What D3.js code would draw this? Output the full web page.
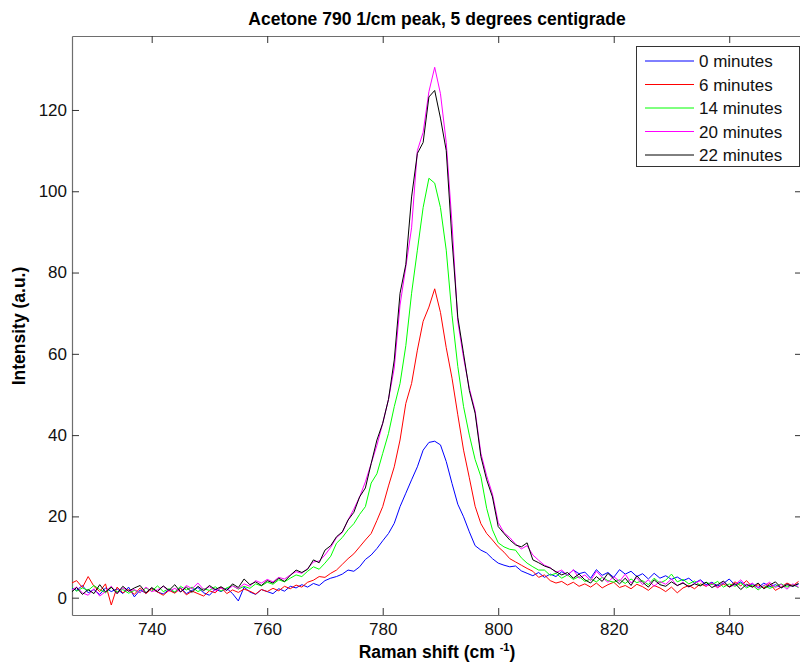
<!DOCTYPE html>
<html>
<head>
<meta charset="utf-8">
<script src="https://cdnjs.cloudflare.com/ajax/libs/d3/7.8.5/d3.min.js"></script>
<style>
  body { margin: 0; background: #fff; }
  text { font-family: "Liberation Sans", Arial, sans-serif; }
</style>
</head>
<body>
<div id="chart"></div>
<script>
// Raman shift grid, 726..852 (1/cm)
var shift = d3.range(726, 853);

var blue0 = [2.5,1.8,3.0,1.2,2.0,0.8,2.4,1.5,2.2,1.0,2.6,0.2,1.9,1.1,2.3,1.4,0.9,2.0,1.3,2.4,1.0,1.8,2.5,1.2,0.6,2.1,1.5,2.3,1.0,-0.8,2.6,1.4,0.8,2.0,
  1.5,1.0,2.2,1.6,2.8,2.4,3.2,2.6,3.5,3.0,4.2,4.8,5.2,5.8,6.8,6.5,7.6,9.4,10.5,12.1,14.0,15.8,18.3,22.4,25.7,29.0,32.2,36.3,38.2,38.5,37.6,33.5,28.1,23.0,19.9,16.2,12.8,11.7,11.0,9.6,
  8.5,8.0,7.6,7.8,6.6,6.0,5.4,6.2,5.0,5.8,5.2,6.4,5.6,6.8,5.9,6.3,4.8,6.9,5.5,6.2,5.0,6.9,5.8,6.5,5.2,5.9,4.6,6.0,4.8,5.4,4.5,5.1,4.2,4.8,3.6,4.4,3.2,3.8,2.9,3.5,
  4.6,3.1,3.9,2.8,3.4,2.5,3.6,2.7,3.2,2.4,3.5,2.8,3.3];

var red6 = [3.5,4.2,2.5,5.2,2.8,1.5,3.4,-1.8,2.6,1.2,2.0,0.8,2.4,1.0,2.2,1.4,0.6,1.8,1.1,2.3,0.7,1.6,1.0,0.4,1.7,1.2,2.6,1.0,1.9,1.3,2.1,1.6,0.9,2.0,
  1.5,2.3,1.7,2.8,2.2,3.1,2.6,3.8,4.3,5.2,5.0,6.0,6.8,8.2,9.6,10.8,12.5,14.2,15.8,19.0,22.4,27.5,32.2,38.8,47.8,52.7,60.9,68.0,71.5,76.0,70.2,61.5,54.0,45.0,36.3,29.5,22.5,18.2,15.8,14.2,
  12.5,11.2,9.6,8.8,8.0,7.2,6.5,5.0,5.6,4.2,3.6,4.0,3.1,3.8,2.8,3.4,2.6,3.6,2.4,3.2,3.8,2.5,3.0,2.2,3.3,2.7,1.8,3.0,2.4,1.5,2.6,1.2,2.4,3.0,2.2,3.4,2.8,3.6,2.5,3.3,
  2.7,3.9,2.9,4.2,2.6,3.2,2.4,3.5,1.8,2.6,3.6,2.9,4.0];

var green14 = [2.8,1.6,2.4,1.8,3.0,2.0,1.2,2.5,1.4,2.0,1.1,1.8,1.3,2.4,1.6,2.9,1.5,2.2,1.4,2.8,1.9,2.6,1.5,2.2,1.8,2.7,1.6,2.4,3.0,2.1,2.8,2.3,3.4,2.9,
  3.8,3.3,4.4,3.9,4.8,5.6,5.2,6.5,7.6,7.0,8.5,10.2,13.4,14.8,16.7,18.2,20.5,22.4,28.2,30.5,35.5,40.4,47.0,52.7,62.0,74.9,85.5,96.0,103.2,102.0,96.0,85.5,69.5,56.9,47.0,40.0,34.0,29.8,22.0,16.7,
  13.5,12.5,11.9,11.7,9.8,8.5,7.6,6.8,6.8,5.5,6.0,4.8,5.6,4.5,5.2,4.0,4.6,3.9,5.0,4.2,3.8,4.4,3.5,4.6,3.7,4.2,3.2,4.8,3.6,4.3,5.8,3.9,4.5,3.4,4.1,3.0,3.8,3.2,4.0,2.6,
  3.4,2.8,3.6,2.4,3.1,1.9,3.0,2.3,2.8,3.4,2.6,3.2,2.5];

var magenta20 = [1.8,2.6,1.2,0.6,2.2,0.4,1.5,2.8,1.0,2.4,1.6,2.0,1.2,2.6,1.5,1.9,2.8,1.6,2.3,1.4,3.0,2.2,3.6,2.0,2.7,1.6,2.4,1.8,2.9,2.2,3.4,2.8,4.2,3.6,
  4.5,3.9,5.0,4.6,5.6,6.4,6.0,7.2,8.8,9.0,10.5,12.4,14.8,16.0,19.1,21.8,24.8,28.5,33.0,37.5,42.9,48.8,56.5,72.0,81.4,91.0,110.0,114.5,124.5,130.5,124.0,112.0,92.0,68.0,59.0,51.5,46.0,35.5,30.0,25.5,
  18.5,16.0,14.8,13.2,12.0,12.8,10.5,9.2,8.0,7.4,6.2,6.8,5.4,6.9,4.8,5.6,4.2,6.5,5.0,3.8,5.2,4.0,5.8,3.6,4.9,3.2,4.4,2.8,4.0,3.3,4.6,2.9,3.8,2.6,3.5,4.2,2.8,3.6,2.4,3.9,
  2.6,3.2,4.4,2.8,3.6,2.3,3.0,3.8,2.5,3.3,2.1,3.4,2.6];

var black22 = [1.2,2.5,0.8,2.0,1.0,3.2,1.4,2.6,1.0,2.8,1.6,2.4,3.0,1.2,2.5,1.5,2.9,1.8,3.2,1.4,2.6,1.3,2.8,1.7,3.0,2.0,2.7,1.8,3.4,2.5,4.6,3.2,3.9,3.0,
  4.2,3.6,4.8,4.0,5.5,6.8,6.2,7.0,9.3,8.6,11.7,12.8,15.0,16.2,19.1,21.0,24.8,27.0,33.0,38.8,42.9,48.8,58.5,74.9,82.0,98.6,109.3,112.0,123.2,124.8,118.0,110.0,88.0,69.0,60.0,51.0,45.4,34.7,29.0,24.8,
  17.5,15.8,14.2,13.0,12.5,13.5,9.3,8.6,7.8,7.3,6.4,5.6,6.2,4.8,5.8,4.4,3.6,5.2,4.0,6.0,4.6,3.4,4.8,3.0,5.4,3.8,2.6,4.4,3.2,2.8,3.9,3.0,3.6,2.7,3.4,2.9,3.8,2.5,3.2,4.1,
  2.6,3.5,2.0,3.3,2.6,3.6,2.2,3.1,3.9,2.4,3.2,2.8,3.5];

var seriesNames = ["0 minutes", "6 minutes", "14 minutes", "20 minutes", "22 minutes"];
var seriesValues = [blue0, red6, green14, magenta20, black22];
var seriesColors = ["#0000ff", "#ff0000", "#00ff00", "#ff00ff", "#000000"];
var xTicks = [740, 760, 780, 800, 820, 840];
var yTicks = [0, 20, 40, 60, 80, 100, 120];

var width = 800, height = 662;
var margin = {top: 36, right: -2, bottom: 47, left: 72};
var axisColor = "#6e6e6e";

var svg = d3.select("#chart").append("svg")
  .attr("width", width)
  .attr("height", height);

var x = d3.scaleLinear().domain([726.2, 852.6]).range([margin.left, width - margin.right]);
var y = d3.scaleLinear().domain([-4.26, 138.2]).range([height - margin.bottom, margin.top]);

svg.append("clipPath").attr("id", "plotclip")
  .append("rect")
  .attr("x", margin.left).attr("y", margin.top)
  .attr("width", width - margin.right - margin.left)
  .attr("height", height - margin.bottom - margin.top);

//axes: ticks point inward, MATLAB style
var tickLen = 7;
var bottomAxis = d3.axisBottom(x).tickValues(xTicks).tickSizeInner(-tickLen).tickSizeOuter(0).tickPadding(8);
var topAxis = d3.axisTop(x).tickValues(xTicks).tickSizeInner(-tickLen).tickSizeOuter(0).tickFormat("");
var leftAxis = d3.axisLeft(y).tickValues(yTicks).tickSizeInner(-tickLen).tickSizeOuter(0).tickPadding(5);
var rightAxis = d3.axisRight(y).tickValues(yTicks).tickSizeInner(-tickLen).tickSizeOuter(0).tickFormat("");

var gb = svg.append("g").attr("transform", "translate(0," + (height - margin.bottom) + ")").call(bottomAxis);
var gt = svg.append("g").attr("transform", "translate(0," + margin.top + ")").call(topAxis);
var gl = svg.append("g").attr("transform", "translate(" + margin.left + ",0)").call(leftAxis);
var gr = svg.append("g").attr("transform", "translate(" + (width - margin.right) + ",0)").call(rightAxis);

[gb, gt, gl, gr].forEach(function(g) {
  g.selectAll(".domain").attr("stroke", axisColor).attr("stroke-width", 1.2);
  g.selectAll(".tick line").attr("stroke", "#333");
  g.selectAll("text")
    .attr("fill", "#111")
    .style("font-family", "'Liberation Sans', Arial, sans-serif")
    .style("font-size", "17px");
});

//spectra
var line = d3.line()
  .x(function(d, i) { return x(shift[i]); })
  .y(function(d) { return y(d); });

svg.append("g")
  .attr("clip-path", "url(#plotclip)")
  .selectAll("path")
  .data(seriesValues)
  .enter()
  .append("path")
  .attr("d", line)
  .attr("fill", "none")
  .attr("stroke", function(d, i) { return seriesColors[i]; })
  .attr("stroke-width", 1)
  .attr("stroke-linejoin", "round");

//title and labels
svg.append("text")
  .attr("x", 437).attr("y", 25)
  .attr("text-anchor", "middle")
  .style("font-weight", "bold").style("font-size", "17.5px")
  .text("Acetone 790 1/cm peak, 5 degrees centigrade");

var xl = svg.append("text")
  .attr("x", 437).attr("y", 658)
  .attr("text-anchor", "middle")
  .style("font-weight", "bold").style("font-size", "17.5px");
xl.append("tspan").text("Raman shift (cm ");
xl.append("tspan").attr("dy", -7).style("font-size", "11px").text("-1");
xl.append("tspan").attr("dy", 7).text(")");

svg.append("text")
  .attr("transform", "translate(25,326) rotate(-90)")
  .attr("text-anchor", "middle")
  .style("font-weight", "bold").style("font-size", "17.5px")
  .text("Intensity (a.u.)");

//legend
var legend = svg.append("g");
legend.append("rect")
  .attr("x", 636.5).attr("y", 46.5)
  .attr("width", 163).attr("height", 120)
  .attr("fill", "#fff")
  .attr("stroke", "#333");

var rows = legend.selectAll(".row")
  .data(seriesNames)
  .enter()
  .append("g")
  .attr("transform", function(d, i) { return "translate(0," + (61 + i * 23.5) + ")"; });

rows.append("line")
  .attr("x1", 645).attr("x2", 694)
  .attr("stroke", function(d, i) { return seriesColors[i]; })
  .attr("stroke-width", 1);

rows.append("text")
  .attr("x", 699).attr("y", 6)
  .style("font-size", "17px")
  .attr("fill", "#111")
  .text(function(d) { return d; });
</script>
</body>
</html>
